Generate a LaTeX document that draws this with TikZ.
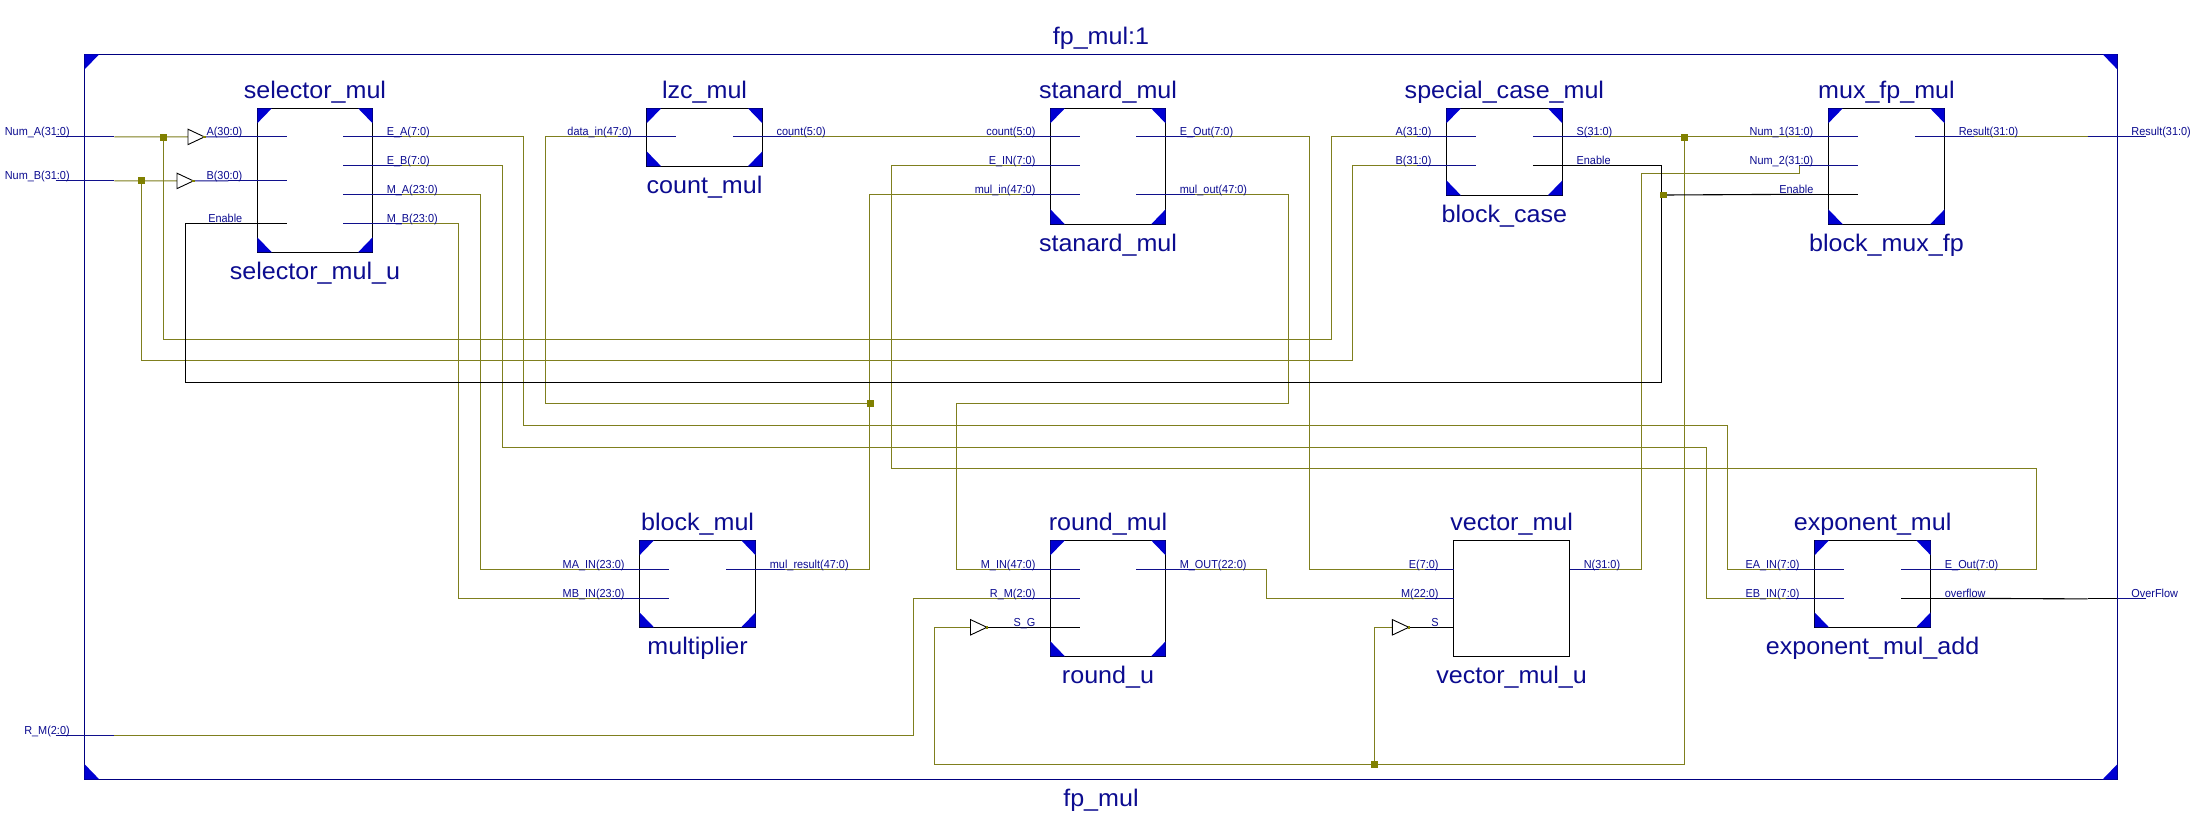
\documentclass[tikz,border=0pt]{standalone}
\usepackage{fontspec}
\setmainfont{Liberation Sans}
\newfontfamily\bigf[FakeStretch=1.045]{Liberation Sans}
\newfontfamily\smallf[FakeStretch=0.94]{Liberation Sans}
\usetikzlibrary{calc}
\pgfdeclarelayer{bg}
\pgfsetlayers{bg,main}
\definecolor{netol}{HTML}{7F7F1E}
\definecolor{portb}{HTML}{10108C}
\definecolor{txtb}{HTML}{0C0C90}
\definecolor{framec}{HTML}{000080}
\definecolor{cornerc}{HTML}{0000D2}
\definecolor{jointc}{HTML}{808000}
\tikzset{
  blk/.style={draw=black,line width=1.1pt,inner sep=0pt,outer sep=0pt},
  topblk/.style={draw=framec,line width=1.3pt,inner sep=0pt,outer sep=0pt},
  bigl/.style={inner sep=0pt,outer sep=0pt,text=txtb,anchor=base,font=\bigf\fontsize{24}{26}\selectfont},
  plabel/.style={inner sep=0pt,outer sep=0pt,text=txtb,font=\smallf\fontsize{11.6}{13}\selectfont},
  wire/.style={draw=netol,line width=1.1pt},
  blackw/.style={draw=black,line width=1.1pt},
  bluew/.style={draw=portb,line width=1.1pt},
  cornerf/.style={fill=cornerc},
  joint/.style={fill=jointc,inner sep=0pt,outer sep=0pt,minimum size=6.7pt},
  bufshape/.style={draw=black,fill=white,line width=0.9pt,line join=miter},
}
% id, x1, y1, x2, y2, style
\newcommand{\mkblock}[6]{%
  \pgfmathsetmacro{\bw}{#4-#2}\pgfmathsetmacro{\bh}{#5-#3}%
  \pgfmathsetmacro{\cx}{(#2+#4)/2}\pgfmathsetmacro{\cy}{(#3+#5)/2}%
  \node[#6,minimum width=\bw pt,minimum height=\bh pt] (#1) at (\cx,\cy) {};%
}
\newcommand{\corners}[1]{%
  \fill[cornerf] (#1.north west) -- ++(14.5,0) -- ++(-14.5,15) -- cycle;
  \fill[cornerf] (#1.north east) -- ++(-14.5,0) -- ++(14.5,15) -- cycle;
  \fill[cornerf] (#1.south west) -- ++(14.5,0) -- ++(-14.5,-15) -- cycle;
  \fill[cornerf] (#1.south east) -- ++(-14.5,0) -- ++(14.5,-15) -- cycle;
}
\newcommand{\names}[3]{%
  \node[bigl] (#1-top) at ($(#1.north)+(0,-10.1)$) {#2};
  \node[bigl] (#1-bot) at ($(#1.south)+(0,26.9)$) {#3};
}
\def\inl{29.6}
\def\wo{0.6}
% block, port id, offset, label, line style
\newcommand{\lport}[5]{%
  \coordinate (#2) at ($(#1.north west)+(-29,#3+\wo)$);
  \coordinate (#2-in) at ($(#1.north west)+(\inl,#3+\wo)$);
  \draw[#5] ($(#1.north west)+(-29,#3)$) -- ($(#1.north west)+(\inl,#3)$);
  \node[plabel,anchor=base east] (#2-t) at ($(#1.north west)+(-15,#3-0.8)$) {#4};
}
\newcommand{\rport}[5]{%
  \coordinate (#2) at ($(#1.north east)+(29,#3+\wo)$);
  \coordinate (#2-in) at ($(#1.north east)+(-\inl,#3+\wo)$);
  \draw[#5] ($(#1.north east)+(-\inl,#3)$) -- ($(#1.north east)+(29,#3)$);
  \node[plabel,anchor=base west] (#2-t) at ($(#1.north east)+(14.2,#3-0.8)$) {#4};
}
% name, x of input, y
\newcommand{\buf}[3]{%
  \coordinate (#1-i) at (#2,#3);
  \coordinate (#1-o) at ($(#1-i)+(16.4,0)$);
  \draw[bufshape] ($(#1-i)+(0,-7.7)$) -- (#1-o) -- ($(#1-i)+(0,7.7)$) -- cycle;
  \fill[jointc] ($(#1-o)+(-1.2,-1.2)$) rectangle ++(2.4,2.4);
}
\begin{document}
\begin{tikzpicture}[x=1pt,y=-1pt]
\useasboundingbox (0,0) rectangle (2200,830);
\begin{pgfonlayer}{bg}
\fill[white] (0,0) rectangle (2200,830);
\end{pgfonlayer}

% frame
\mkblock{top}{84.7}{54.3}{2117.2}{779.3}{topblk}
\corners{top}
\names{top}{fp\_mul:1}{fp\_mul}

% blocks
\mkblock{sel}{257.3}{108.3}{372.6}{252.3}{blk}
\mkblock{lzc}{646.7}{108.3}{762.4}{166.3}{blk}
\mkblock{std}{1050.4}{108.3}{1165.6}{224.3}{blk}
\mkblock{spc}{1446.4}{108.3}{1562.4}{195.3}{blk}
\mkblock{mux}{1828.3}{108.3}{1944.6}{224.3}{blk}
\mkblock{mul}{639.5}{540.3}{755.7}{627.3}{blk}
\mkblock{rnd}{1050.4}{540.3}{1165.6}{656.3}{blk}
\mkblock{vec}{1453.6}{540.3}{1569.6}{656.3}{blk}
\mkblock{exp}{1814.5}{540.3}{1930.7}{627.3}{blk}
\corners{sel}\corners{lzc}\corners{std}\corners{spc}\corners{mux}\corners{mul}\corners{rnd}\corners{exp}
\names{sel}{selector\_mul}{selector\_mul\_u}
\names{lzc}{lzc\_mul}{count\_mul}
\names{std}{stanard\_mul}{stanard\_mul}
\names{spc}{special\_case\_mul}{block\_case}
\names{mux}{mux\_fp\_mul}{block\_mux\_fp}
\names{mul}{block\_mul}{multiplier}
\names{rnd}{round\_mul}{round\_u}
\names{vec}{vector\_mul}{vector\_mul\_u}
\names{exp}{exponent\_mul}{exponent\_mul\_add}

% top-level pins
\lport{top}{numA}{82}{Num\_A(31:0)}{bluew}
\lport{top}{numB}{126}{Num\_B(31:0)}{bluew}
\lport{top}{rmT}{681}{R\_M(2:0)}{bluew}
\rport{top}{resT}{82}{Result(31:0)}{bluew}
\rport{top}{ovT}{544}{OverFlow}{blackw}
\draw[bluew] ($(top.north east)+(0,544)$) -- ($(top.north east)+(29,544)$);

% ports
\lport{sel}{selA}{28}{A(30:0)}{bluew}
\lport{sel}{selB}{72}{B(30:0)}{bluew}
\rport{sel}{selEA}{28}{E\_A(7:0)}{bluew}
\rport{sel}{selEB}{57}{E\_B(7:0)}{bluew}
\rport{sel}{selMA}{86}{M\_A(23:0)}{bluew}
\rport{sel}{selMB}{115}{M\_B(23:0)}{bluew}
\lport{lzc}{lzcD}{28}{data\_in(47:0)}{bluew}
\rport{lzc}{lzcC}{28}{count(5:0)}{bluew}
\lport{std}{stdC}{28}{count(5:0)}{bluew}
\lport{std}{stdEi}{57}{E\_IN(7:0)}{bluew}
\lport{std}{stdMi}{86}{mul\_in(47:0)}{bluew}
\rport{std}{stdEo}{28}{E\_Out(7:0)}{bluew}
\rport{std}{stdMo}{86}{mul\_out(47:0)}{bluew}
\lport{spc}{spA}{28}{A(31:0)}{bluew}
\lport{spc}{spB}{57}{B(31:0)}{bluew}
\rport{spc}{spS}{28}{S(31:0)}{bluew}
\lport{mux}{muxN1}{28}{Num\_1(31:0)}{bluew}
\lport{mux}{muxN2}{57}{Num\_2(31:0)}{bluew}
\rport{mux}{muxR}{28}{Result(31:0)}{bluew}
\lport{mul}{mulMA}{29}{MA\_IN(23:0)}{bluew}
\lport{mul}{mulMB}{58}{MB\_IN(23:0)}{bluew}
\rport{mul}{mulR}{29}{mul\_result(47:0)}{bluew}
\lport{rnd}{rndMi}{29}{M\_IN(47:0)}{bluew}
\lport{rnd}{rndR}{58}{R\_M(2:0)}{bluew}
\rport{rnd}{rndMo}{29}{M\_OUT(22:0)}{bluew}
\lport{exp}{expEA}{29}{EA\_IN(7:0)}{bluew}
\lport{exp}{expEB}{58}{EB\_IN(7:0)}{bluew}
\rport{exp}{expOut}{29}{E\_Out(7:0)}{bluew}
\def\inl{0}
\lport{vec}{vecE}{29}{E(7:0)}{bluew}
\lport{vec}{vecM}{58}{M(22:0)}{bluew}
\rport{vec}{vecN}{29}{N(31:0)}{bluew}
\def\inl{29.6}
\def\wo{0}
\lport{sel}{selEn}{115}{Enable}{blackw}
\rport{spc}{spEn}{57}{Enable}{blackw}
\lport{mux}{muxEn}{86}{Enable}{blackw}
\lport{rnd}{rndS}{87}{S\_G}{blackw}
\rport{exp}{expOv}{58}{overflow}{blackw}
\def\inl{0}
\lport{vec}{vecS}{87}{S}{blackw}
\def\inl{29.6}

% buffers
\buf{bufA}{188}{136.9}
\buf{bufB}{177}{180.9}
\buf{bufG}{970.5}{627.3}
\buf{bufV}{1392.4}{627.3}

% junctions
\node[joint] (jA) at (163.6,137.2) {};
\node[joint] (jB) at (141.6,180.6) {};
\node[joint] (jM) at (870.5,403.5) {};
\node[joint] (jS) at (1684.4,137.2) {};
\node[joint] (jEn) at (1663.8,195) {};
\node[joint] (jV) at (1374.2,764.3) {};

\begin{pgfonlayer}{bg}
% olive nets
\draw[wire] (numA-in) -- (bufA-i);
\draw[wire] (numB-in) -- (bufB-i);
\draw[wire] (jA.center) |- (1331.6,339.3) |- (spA);
\draw[wire] (jB.center) |- (1352.7,360.3) |- (spB);
\draw[wire] (selEA) -| (523.3,425.3) -| (1727.4,500) |- (expEA);
\draw[wire] (selEB) -| (502.7,447.3) -| (1706.4,500) |- (expEB);
\draw[wire] (selMA) -| (480.7,300) |- (mulMA);
\draw[wire] (selMB) -| (458.7,300) |- (mulMB);
\draw[wire] (lzcD) -| (545.3,300) |- (jM.center);
\draw[wire] (lzcC) -- (stdC);
\draw[wire] (stdMi) -| (869.1,300) |- (mulR);
\draw[wire] (stdEi) -| (891.6,300) |- (2036.9,468.3) |- (expOut);
\draw[wire] (stdMo) -| (1288.6,300) |- (956.6,403.3) |- (rndMi);
\draw[wire] (stdEo) -| (1309.6,300) |- (vecE);
\draw[wire] (spS) -- (muxN1);
\draw[wire] (jS.center) |- (934.6,764.3) |- (bufG-i);
\draw[wire] (jV.center) |- (bufV-i);
\draw[wire] (rmT-in) -| (913.6,650) |- (rndR);
\draw[wire] (rndMo) -| (1266.6,580) |- (vecM);
\draw[wire] (vecN) -| (1641.3,173.3) -| (muxN2);
\draw[wire] (muxR) -- (resT-in);
% black nets
\draw[blackw] (selEn) -| (185.6,382.3) -| (1661.9,300) |- (spEn);
\draw[blackw] (jEn.center) -- (muxEn);
\draw[blackw] (expOv) -- (ovT-in);
\draw[blackw] (bufG-o) -- (rndS);
\draw[blackw] (bufV-o) -- (vecS);
% buffer outputs
\draw[bluew] (bufA-o) -- (selA);
\draw[bluew] (bufB-o) -- (selB);
\end{pgfonlayer}
\end{tikzpicture}
\end{document}
